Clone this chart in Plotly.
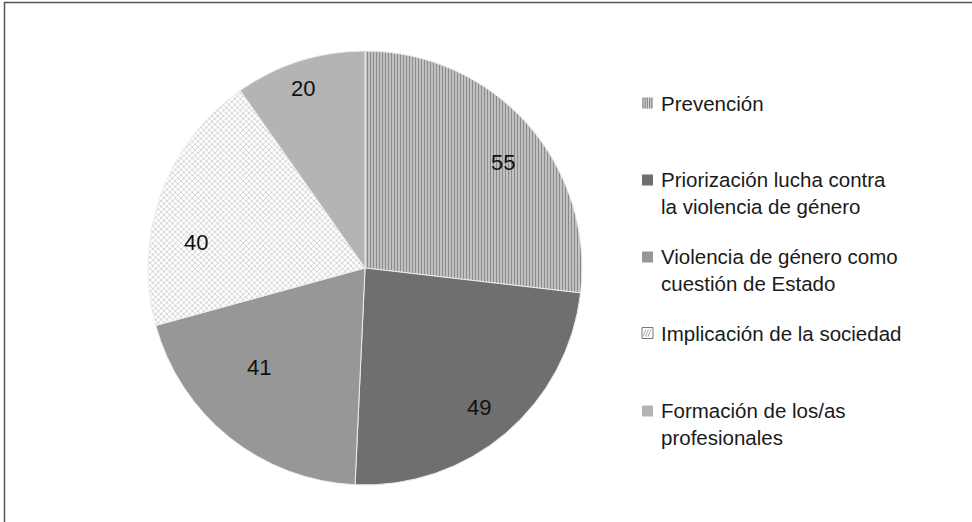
import math
import plotly.graph_objects as go

# ---- data ----
labels = ["Prevención", "Priorización lucha contra la violencia de género",
          "Violencia de género como cuestión de Estado", "Implicación de la sociedad",
          "Formación de los/as profesionales"]
legend_text = ["Prevención", "Priorización lucha contra<br>la violencia de género",
               "Violencia de género como<br>cuestión de Estado", "Implicación de la sociedad",
               "Formación de los/as<br>profesionales"]
values = [55, 49, 41, 40, 20]

# ---- style ----
W, H = 972, 522
colors = ["#d0d0d0", "#6f6f6f", "#979797", "#ffffff", "#b4b4b4"]
pat_shape = ["|", "", "", "x", ""]
pat_fg = ["#8a8a8a", "#6f6f6f", "#979797", "#999999", "#b4b4b4"]
pat_bg = ["#d4d4d4", "#6f6f6f", "#979797", "#ffffff", "#b4b4b4"]
pat_size = [3, 8, 8, 4, 8]
pat_sol = [0.5, 0.3, 0.3, 0.2, 0.3]
# label placement (radial fraction, angular tweak in degrees) – Excel "best fit"
lab_frac = [0.80, 0.83, 0.67, 0.79, 0.876]
lab_dang = [4.2, 1.0, 8.4, -11.1, -1.4]
# legend geometry (pixels)
leg_marker_x = 642
leg_text_x = 659
leg_first_line_y = [103, 180, 257, 333, 411]
leg_line_h = 25

dom_x = [0.1523, 0.5988]
dom_y = [0.0709, 0.9023]

fig = go.Figure()
fig.add_trace(go.Pie(
    labels=labels, values=values, sort=False, direction="clockwise", rotation=0,
    domain=dict(x=dom_x, y=dom_y),
    textinfo="none", hoverinfo="label+value", showlegend=False,
    marker=dict(colors=colors, line=dict(color="#ececec", width=1),
                pattern=dict(shape=pat_shape, fgcolor=pat_fg, bgcolor=pat_bg,
                             size=pat_size, solidity=pat_sol, fillmode="replace")),
))

# pie geometry derived from the domain
cx = (dom_x[0] + dom_x[1]) / 2 * W
cy = H - (dom_y[0] + dom_y[1]) / 2 * H
r = min((dom_x[1] - dom_x[0]) * W, (dom_y[1] - dom_y[0]) * H) / 2
total = sum(values)
cum = 0
annotations = []
for v, f, da in zip(values, lab_frac, lab_dang):
    mid = (cum + v / 2) / total * 360 + da
    cum += v
    th = math.radians(mid)
    px = cx + f * r * math.sin(th)
    py = cy - f * r * math.cos(th)
    annotations.append(dict(x=px / W, y=1 - py / H, xref="paper", yref="paper",
                            text=str(v), showarrow=False, xanchor="center", yanchor="middle",
                            font=dict(size=22, color="#111111")))

shapes = []
# outer frame
shapes.append(dict(type="rect", xref="paper", yref="paper", x0=4.5 / W, x1=1.02,
                   y0=-0.02, y1=1 - 2.5 / H, line=dict(color="#555555", width=1.5)))


def P(x, y):
    return x / W, 1 - y / H


ms = 11
for i, (txt, y0) in enumerate(zip(legend_text, leg_first_line_y)):
    nlines = txt.count("<br>") + 1
    yc = y0 + (nlines - 1) * leg_line_h / 2
    annotations.append(dict(x=leg_text_x / W, y=1 - yc / H, xref="paper", yref="paper",
                            text=txt, showarrow=False, xanchor="left", yanchor="middle",
                            align="left", font=dict(size=20.5, color="#1a1a1a")))
    x0, x1 = leg_marker_x, leg_marker_x + ms
    ya, yb = y0 - ms / 2, y0 + ms / 2
    px0, py0 = P(x0, ya)
    px1, py1 = P(x1, yb)
    if pat_shape[i] == "|":
        shapes.append(dict(type="rect", xref="paper", yref="paper", x0=px0, x1=px1,
                           y0=py1, y1=py0, line=dict(width=0), fillcolor="#d8d8d8"))
        for k in range(5):
            xx = x0 + 1 + k * 2.2
            a, b = P(xx, ya)
            c, d = P(xx, yb)
            shapes.append(dict(type="line", xref="paper", yref="paper", x0=a, x1=c,
                               y0=b, y1=d, line=dict(color="#8a8a8a", width=1.2)))
    elif pat_shape[i] == "x":
        shapes.append(dict(type="rect", xref="paper", yref="paper", x0=px0, x1=px1,
                           y0=py1, y1=py0, line=dict(width=1, color="#777777"),
                           fillcolor="#ffffff"))
        for k in range(3):
            a, b = P(x0 + 4 + k * 2.5, ya + 2)
            c, d = P(x0 + 1 + k * 2.5, yb - 2)
            shapes.append(dict(type="line", xref="paper", yref="paper", x0=a, x1=c,
                               y0=b, y1=d, line=dict(color="#aaaaaa", width=1)))
    else:
        shapes.append(dict(type="rect", xref="paper", yref="paper", x0=px0, x1=px1,
                           y0=py1, y1=py0, line=dict(width=0), fillcolor=colors[i]))

fig.update_layout(
    width=W, height=H, margin=dict(l=0, r=0, t=0, b=0),
    paper_bgcolor="white", plot_bgcolor="white",
    font=dict(family="Liberation Sans, Arial, Helvetica, sans-serif"),
    annotations=annotations, shapes=shapes, showlegend=False,
)
fig.write_html("out.html", config={"displayModeBar": False},
               post_script="document.body.style.margin='0';")
